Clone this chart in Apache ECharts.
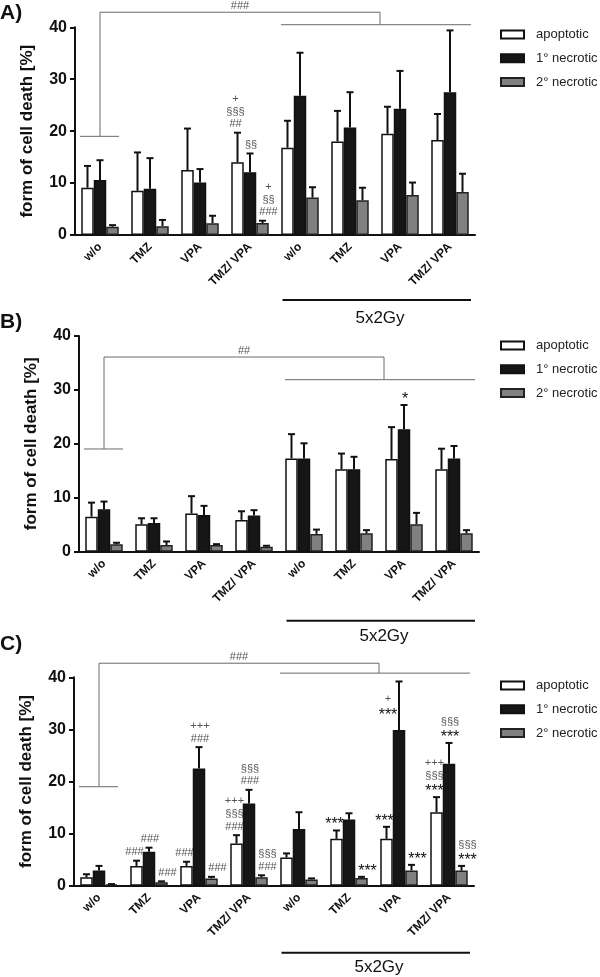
<!DOCTYPE html>
<html><head><meta charset="utf-8">
<script src="https://cdn.jsdelivr.net/npm/echarts@6/dist/echarts.min.js"></script>
<style>html,body{margin:0;padding:0;background:#fff}#c{width:600px;height:977px}</style>
</head><body><div id="c"></div>
<script>
// ---------- DATA ----------
const categories = ['w/o', 'TMZ', 'VPA', 'TMZ/ VPA', 'w/o', 'TMZ', 'VPA', 'TMZ/ VPA'];
const seriesNames = ['apoptotic', '1° necrotic', '2° necrotic'];
const groupLabel = '5x2Gy';
const yAxisName = 'form of cell death [%]';

// Panel A (mean, error)
const A_apoptotic     = [9.1, 8.5, 12.5, 14.0, 16.8, 18.0, 19.5, 18.3];
const A_apoptoticErr  = [4.2, 7.4, 8.0, 5.7, 5.2, 5.9, 5.2, 5.0];
const A_necrotic1     = [10.6, 8.9, 10.1, 12.1, 26.8, 20.7, 24.3, 27.5];
const A_necrotic1Err  = [3.8, 5.9, 2.6, 3.6, 8.3, 6.8, 7.3, 11.9];
const A_necrotic2     = [1.6, 1.7, 2.25, 2.3, 7.2, 6.7, 7.7, 8.3];
const A_necrotic2Err  = [0.3, 1.2, 1.45, 0.45, 2.0, 2.4, 2.4, 3.5];
const A_bracket = { label: '###', top: 42.9, left: 19.0, right: 40.5 };
const A_notes = [[3, 0, '+\n§§§\n##'], [3, 1, '§§'], [3, 2, '+\n§§\n###']];

// Panel B
const B_apoptotic     = [6.5, 5.1, 7.1, 5.9, 17.3, 15.3, 17.2, 15.3];
const B_apoptoticErr  = [2.6, 1.1, 3.2, 1.6, 4.5, 2.9, 5.9, 3.8];
const B_necrotic1     = [7.85, 5.3, 6.8, 6.7, 17.3, 15.3, 22.7, 17.3];
const B_necrotic1Err  = [1.45, 0.9, 1.7, 1.0, 2.8, 2.3, 4.5, 2.3];
const B_necrotic2     = [1.36, 1.24, 1.24, 0.93, 3.3, 3.4, 5.1, 3.4];
const B_necrotic2Err  = [0.3, 0.66, 0.16, 0.17, 0.8, 0.6, 2.1, 0.6];
const B_bracket = { label: '##', top: 36.1, left: 19.05, right: 31.9 };
const B_notes = [[6, 1, '*']];

// Panel C
const C_apoptotic     = [1.6, 3.8, 3.8, 8.1, 5.4, 9.0, 9.0, 14.1];
const C_apoptoticErr  = [0.6, 1.0, 0.8, 1.6, 0.8, 1.6, 2.3, 2.9];
const C_necrotic1     = [2.9, 6.5, 22.5, 15.8, 10.9, 12.7, 29.9, 23.4];
const C_necrotic1Err  = [0.9, 0.8, 4.1, 2.6, 3.2, 1.2, 9.3, 4.0];
const C_necrotic2     = [0.26, 0.64, 1.4, 1.6, 1.2, 1.5, 2.9, 2.9];
const C_necrotic2Err  = [0.05, 0.2, 0.3, 0.4, 0.2, 0.2, 1.1, 0.9];
const C_bracket = { label: '###', top: 42.7, left: 19.0, right: 40.8 };
const C_notes = [
  [1, 0, '###'], [1, 1, '###'], [1, 2, '###'],
  [2, 0, '###'], [2, 1, '+++\n###'], [2, 2, '###'],
  [3, 0, '+++\n§§§\n###'], [3, 1, '§§§\n###'], [3, 2, '§§§\n###'],
  [5, 0, '***'], [5, 2, '***'],
  [6, 0, '***'], [6, 1, '+\n***', 31.7, 'left'], [6, 2, '***'],
  [7, 0, '+++\n§§§\n***'], [7, 1, '§§§\n***'], [7, 2, '§§§\n***']
];

// ---------- LAYOUT / STYLE ----------
const FONT = '"Liberation Sans", Arial, Helvetica, sans-serif';
const barStyles = [
  { color: '#ffffff', borderColor: '#111', borderWidth: 1.5 },
  { color: '#161616', borderColor: '#111', borderWidth: 1.5 },
  { color: '#808080', borderColor: '#222', borderWidth: 1.5 }
];
const panels = [
  { id: 'A', means: [A_apoptotic, A_necrotic1, A_necrotic2], errs: [A_apoptoticErr, A_necrotic1Err, A_necrotic2Err],
    bracket: A_bracket, notes: A_notes,
    grid: { left: 75, top: 27.3, width: 400, height: 207.7 }, titleTop: 3, legendTop: 28, lineOff: 65, textOff: 83 },
  { id: 'B', means: [B_apoptotic, B_necrotic1, B_necrotic2], errs: [B_apoptoticErr, B_necrotic1Err, B_necrotic2Err],
    bracket: B_bracket, notes: B_notes,
    grid: { left: 79, top: 336, width: 400, height: 215.7 }, titleTop: 312, legendTop: 339, lineOff: 69, textOff: 85 },
  { id: 'C', means: [C_apoptotic, C_necrotic1, C_necrotic2], errs: [C_apoptoticErr, C_necrotic1Err, C_necrotic2Err],
    bracket: C_bracket, notes: C_notes,
    grid: { left: 74, top: 677.3, width: 400, height: 208.4 }, titleTop: 634, legendTop: 679, lineOff: 67, textOff: 82 }
];
const noteDx = [-2, 1, 6];

function richNote(t) {
  return t.split('\n').map(l => /^\*+$/.test(l) ? '{st|' + l + '}' : '{s|' + l + '}').join('\n');
}

const option = { animation: false, backgroundColor: '#fff', title: [], grid: [], xAxis: [], yAxis: [], legend: [], series: [] };

panels.forEach((p, i) => {
  option.title.push({ text: p.id + ')', left: 0, top: p.titleTop, padding: 0,
    textStyle: { fontFamily: FONT, fontSize: 21, fontWeight: 'bold', color: '#111' } });
  option.grid.push(Object.assign({}, p.grid));
  option.xAxis.push({
    type: 'category', gridIndex: i, data: categories,
    axisLine: { onZero: false, lineStyle: { color: '#111', width: 2 } },
    axisTick: { alignWithLabel: true, length: 5, lineStyle: { color: '#111', width: 2 } },
    axisLabel: { rotate: 45, interval: 0, margin: 10, fontFamily: FONT, fontWeight: 'bold', fontSize: 12, color: '#111' }
  });
  option.xAxis.push({ type: 'value', gridIndex: i, min: -0.5, max: 7.5, show: false, axisLine: { onZero: false } });
  option.yAxis.push({
    type: 'value', gridIndex: i, min: 0, max: 40, interval: 10,
    name: yAxisName, nameLocation: 'middle', nameGap: 39,
    nameTextStyle: { fontFamily: FONT, fontWeight: 'bold', fontSize: 17, color: '#111' },
    axisLine: { show: true, onZero: false, lineStyle: { color: '#111', width: 2 } },
    axisTick: { show: true, length: 5, lineStyle: { color: '#111', width: 2 } },
    axisLabel: { fontFamily: FONT, fontWeight: 'bold', fontSize: 16, color: '#111', margin: 8 },
    splitLine: { show: false }
  });
  option.legend.push({
    data: seriesNames, orient: 'vertical', left: 500, top: p.legendTop, icon: 'rect', padding: 0,
    itemWidth: 23, itemHeight: 8, itemGap: 10.8, selectedMode: false,
    textStyle: { fontFamily: FONT, fontSize: 13, color: '#222', padding: [0, 0, 0, 7] }
  });
  // bars
  seriesNames.forEach((name, s) => {
    option.series.push({
      type: 'bar', name: name, xAxisIndex: 2 * i, yAxisIndex: i,
      data: p.means[s], barWidth: '25%', barGap: '0%', itemStyle: barStyles[s], z: 2
    });
  });
  // error bars
  const errData = [];
  for (let c = 0; c < categories.length; c++) {
    for (let s = 0; s < 3; s++) errData.push([c + (s - 1) * 0.25, p.means[s][c], p.errs[s][c]]);
  }
  option.series.push({
    type: 'custom', name: 'err' + p.id, xAxisIndex: 2 * i + 1, yAxisIndex: i, clip: false, z: 4,
    data: errData, encode: { x: 0, y: 1 },
    renderItem: (params, api) => {
      const x = api.value(0), m = api.value(1), e = api.value(2);
      const a = api.coord([x, m]), b = api.coord([x, m + e]);
      return { type: 'group', children: [
        { type: 'line', shape: { x1: a[0], y1: a[1], x2: b[0], y2: b[1] }, style: { stroke: '#111', lineWidth: 2 } },
        { type: 'line', shape: { x1: b[0] - 3.5, y1: b[1], x2: b[0] + 3.5, y2: b[1] }, style: { stroke: '#111', lineWidth: 2 } }
      ] };
    }
  });
  // significance notes
  const noteData = p.notes.map((n, k) => {
    const [c, s, , anchor] = n;
    const v = anchor !== undefined ? anchor : p.means[s][c] + p.errs[s][c];
    return [c + (s - 1) * 0.25, v, k];
  });
  option.series.push({
    type: 'custom', name: 'notes' + p.id, xAxisIndex: 2 * i + 1, yAxisIndex: i, clip: false, z: 5,
    data: noteData, encode: { x: 0, y: 1 },
    renderItem: (params, api) => {
      const n = p.notes[api.value(2)];
      const pt = api.coord([api.value(0), api.value(1)]);
      const dx = n[4] === 'left' ? -11 : noteDx[n[1]];
      return { type: 'text', style: {
        text: richNote(n[2]), x: pt[0] + dx, y: pt[1] - 2, align: 'center', verticalAlign: 'bottom',
        rich: {
          s: { fontFamily: FONT, fontSize: 11, fill: '#555', color: '#555', lineHeight: 12.8 },
          st: { fontFamily: FONT, fontSize: 16, fill: '#111', color: '#111', lineHeight: 12.8, padding: [6, 0, 0, 0] }
        }
      } };
    }
  });
  // comparison bracket + group label
  option.series.push({
    type: 'custom', name: 'bracket' + p.id, xAxisIndex: 2 * i + 1, yAxisIndex: i, clip: false, z: 3,
    data: [[0, 0]], encode: { x: 0, y: 1 },
    renderItem: (params, api) => {
      const b = p.bracket;
      const P = (x, y) => api.coord([x, y]);
      const seg = (x0, y0, x1, y1, w, col) => {
        const a = P(x0, y0), c = P(x1, y1);
        return { type: 'line', shape: { x1: a[0], y1: a[1], x2: c[0], y2: c[1] }, style: { stroke: col, lineWidth: w } };
      };
      const gray = '#6a6a6a';
      const xc = 5.6;
      const lblPt = P(xc / 2, b.top);
      const zero = P(0, 0)[1];
      const g0 = P(3.65, 0)[0], g1 = P(7.42, 0)[0];
      return { type: 'group', children: [
        seg(0, b.top, xc, b.top, 1, gray),
        seg(0, b.top, 0, b.left, 1, gray),
        seg(-0.4, b.left, 0.38, b.left, 1, gray),
        seg(xc, b.top, xc, b.right, 1, gray),
        seg(3.62, b.right, 7.42, b.right, 1, gray),
        { type: 'text', style: { text: b.label, x: lblPt[0], y: lblPt[1] - 1, align: 'center', verticalAlign: 'bottom',
          fontFamily: FONT, fontSize: 11, fill: '#555' } },
        { type: 'line', shape: { x1: g0, y1: zero + p.lineOff, x2: g1, y2: zero + p.lineOff }, style: { stroke: '#111', lineWidth: 2 } },
        { type: 'text', style: { text: groupLabel, x: P(xc, 0)[0], y: zero + p.textOff, align: 'center', verticalAlign: 'middle',
          fontFamily: FONT, fontSize: 17, fill: '#111' } }
      ] };
    }
  });
});

const chart = echarts.init(document.getElementById('c'), null, { renderer: 'canvas' });
chart.setOption(option);
</script>
</body></html>
